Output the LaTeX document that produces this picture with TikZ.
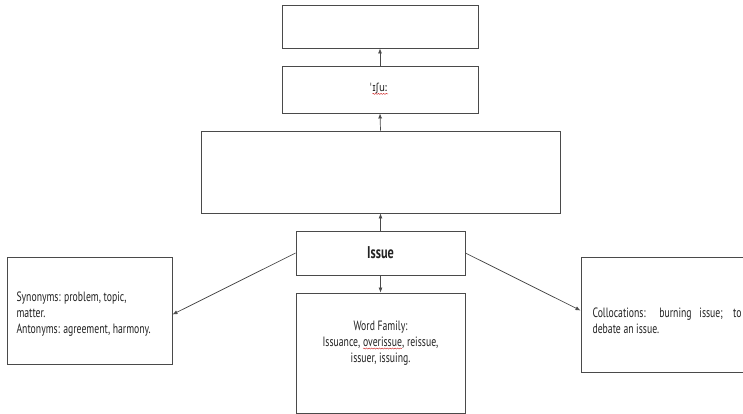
\documentclass[tikz,border=0pt]{standalone}
\usepackage{fontspec}
\setmainfont[FakeStretch=0.72]{PT Sans}
\newfontfamily\ipafont[FakeStretch=0.85]{DejaVu Sans}
\usetikzlibrary{arrows.meta,decorations.pathmorphing}
\definecolor{edge}{HTML}{4A4A4A}
\definecolor{ink}{HTML}{222222}
\definecolor{spell}{HTML}{D23030}
% red wavy underline, as a spelling checker marks a word
\newcommand\spellwave[1]{\tikz[x=1pt,y=1pt,baseline=(sw.base)]{%
  \node[inner sep=0pt,outer sep=0pt] (sw) {#1};
  \draw[spell, line width=0.45pt, decorate,
        decoration={snake, amplitude=0.55pt, segment length=2.6pt}]
    ([yshift=-2.2pt]sw.base west) -- ([yshift=-2.2pt]sw.base east);}}
\tikzset{
  box/.style={draw=edge, line width=0.9pt, rectangle, inner sep=0pt, text=ink},
  arr/.style={draw=edge, line width=0.7pt, -{Latex[length=5pt,width=4pt]}},
  body/.style={font=\fontsize{13.5}{16}\selectfont, text=ink}
}
\begin{document}
\begin{tikzpicture}[x=1pt,y=-1pt]
  \useasboundingbox (0,0) rectangle (743,414);
  \clip (0,0) rectangle (743,414);
  \fill[white] (0,0) rectangle (743,414);

  % upper chain of boxes
  \node[box, minimum width=196pt, minimum height=43pt] (top) at (380,26.5) {};
  \node[box, minimum width=196pt, minimum height=47pt] (ipa) at (380,89.5) {};
  \node[text=ink, font=\ipafont\fontsize{11}{13}\selectfont] (ipatxt) at (379,89) {ˈ\spellwave{ɪʃuː}};
  \node[box, minimum width=359pt, minimum height=82pt] (big) at (380.5,172) {};

  % central word
  \node[box, minimum width=169pt, minimum height=44pt,
        font=\bfseries\fontsize{17}{20}\selectfont] (issue) at (380.5,253) {Issue};

  % left box: synonyms and antonyms
  \node[box, minimum width=165pt, minimum height=107pt] (syn) at (89.5,310.5) {};
  \node[body, align=left, anchor=west] (syntxt) at (13,314)
    {Synonyms: problem, topic,\\matter.\\Antonyms: agreement, harmony.};

  % bottom box: word family
  \node[box, minimum width=169pt, minimum height=120pt] (fam) at (380.5,353) {};
  \node[body, align=center] (famtxt) at (380.5,343)
    {Word Family:\\Issuance, \spellwave{overissue}, reissue,\\issuer, issuing.};

  % right box: collocations
  \node[box, minimum width=168pt, minimum height=115pt] (col) at (665,314.5) {};
  \node[body, align=justify, text width=149pt, anchor=west] (coltxt) at (589,321)
    {Collocations: burning issue; to \mbox{debate} an issue.};

  % connectors
  \draw[arr] (issue.north) -- (big.south);
  \draw[arr] (big.north) -- (ipa.south);
  \draw[arr] (ipa.north) -- (top.south);
  \draw[arr] (issue.south) -- (fam.north);
  \draw[arr] (issue.west) -- ([yshift=-4pt]syn.east);
  \draw[arr] (issue.east) -- ([yshift=4pt]col.west);
\end{tikzpicture}
\end{document}
